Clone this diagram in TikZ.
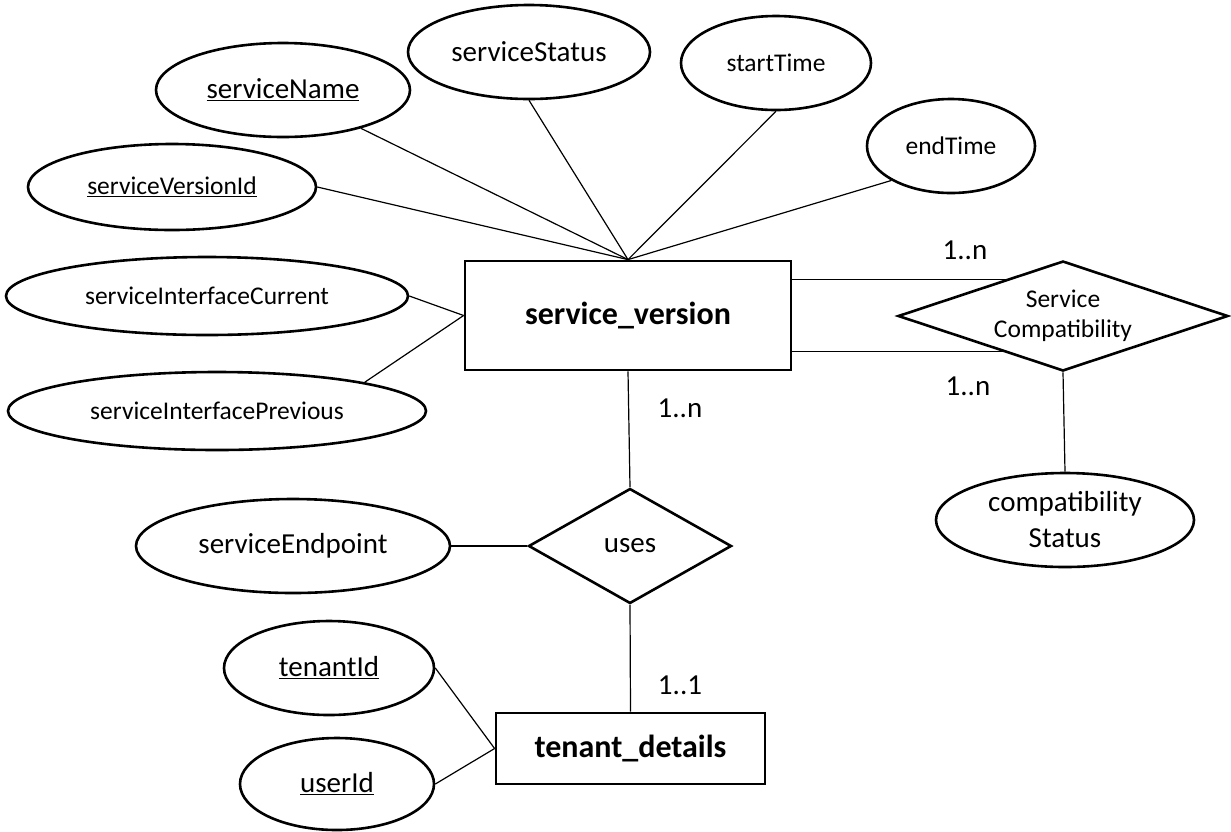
\documentclass[tikz,border=0pt]{standalone}
\usepackage{fontspec}
\setmainfont{Carlito}
\usetikzlibrary{shapes.geometric,backgrounds,calc}

\tikzset{
  bigtext/.style={font=\fontsize{29}{36}\selectfont},
  smalltext/.style={font=\fontsize{25.5}{30}\selectfont},
  headtext/.style={font=\fontsize{32}{38}\selectfont\bfseries},
  attr/.style={ellipse, draw, line width=2.6pt, fill=white, inner sep=0pt, align=center},
  entity/.style={rectangle, draw, line width=2.8pt, fill=white, inner sep=0pt, headtext},
  relation/.style={diamond, draw, line width=2.6pt, fill=white, inner sep=0pt, align=center},
  link/.style={draw, line width=1.2pt},
  card/.style={inner sep=0pt, bigtext}
}

\begin{document}
\begin{tikzpicture}[x=1pt, y=-1pt]
\useasboundingbox (0,0) rectangle (1231,831);

% entities
\node[entity, minimum width=326pt, minimum height=109pt] (sv) at (628,315.5) {service\_version};
\node[entity, minimum width=269pt, minimum height=71pt] (td) at (630.5,748.5) {tenant\_details};

% relationships
\node[relation, smalltext, minimum width=330pt, minimum height=110pt, aspect=3] (sc) at (1063,316) {Service\\Compatibility};
\node[relation, bigtext, minimum width=203pt, minimum height=115pt] (us) at (630,546) {uses};

% attributes of service_version
\node[attr, bigtext, minimum width=254pt, minimum height=94pt] (sn) at (283,90) {\underline{serviceName}};
\node[attr, bigtext, minimum width=242pt, minimum height=94pt] (ss) at (529,52) {serviceStatus};
\node[attr, smalltext, minimum width=190pt, minimum height=94pt] (st) at (776,63) {startTime};
\node[attr, smalltext, minimum width=168pt, minimum height=94pt] (et) at (951,146) {endTime};
\node[attr, smalltext, minimum width=288pt, minimum height=86pt] (svi) at (172,187) {\underline{serviceVersionId}};
\node[attr, smalltext, minimum width=402pt, minimum height=78pt] (sic) at (207,296) {serviceInterfaceCurrent};
\node[attr, smalltext, minimum width=418pt, minimum height=78pt] (sip) at (217,411) {serviceInterfacePrevious};

% attribute of uses
\node[attr, bigtext, minimum width=314pt, minimum height=94pt] (sep) at (293,546) {serviceEndpoint};

% attributes of tenant_details
\node[attr, bigtext, minimum width=210pt, minimum height=94pt] (tid) at (329,668) {\underline{tenantId}};
\node[attr, bigtext, minimum width=194pt, minimum height=92pt] (uid) at (337,784) {\underline{userId}};

% attribute of Service Compatibility
\node[attr, bigtext, minimum width=258pt, minimum height=94pt] (cs) at (1065,520) {compatibility\\Status};

% cardinalities
\node[card] (c1) at (965,250) {1..n};
\node[card] (c2) at (968,386) {1..n};
\node[card] (c3) at (680,408) {1..n};
\node[card] (c4) at (680,685) {1..1};

% connectors
\begin{scope}[on background layer]
  \draw[link] (sn) -- (sv.north);
  \draw[link] (ss.south) -- (sv.north);
  \draw[link] (st.south) -- (sv.north);
  \draw[link] (et.210) -- (sv.north);
  \draw[link] (svi.east) -- (sv.north);
  \draw[link] (sic.east) -- (sv.west);
  \draw[link] (sip.11) -- (sv.west);
  \draw[link] ([yshift=-20pt]sv.north east) -- ([yshift=-20pt]sv.north east -| sc.center);
  \draw[link] ([yshift=20pt]sv.south east) -- ([yshift=20pt]sv.south east -| sc.center);
  \draw[link] (sc.south) -- (cs.north);
  \draw[link] (sv.south) -- (us.north);
  \draw[link] (sep.east) -- (us.west);
  \draw[link] (us.south) -- (td.north);
  \draw[link] (tid.east) -- (td.west);
  \draw[link] (uid.east) -- (td.west);
\end{scope}
\end{tikzpicture}
\end{document}
